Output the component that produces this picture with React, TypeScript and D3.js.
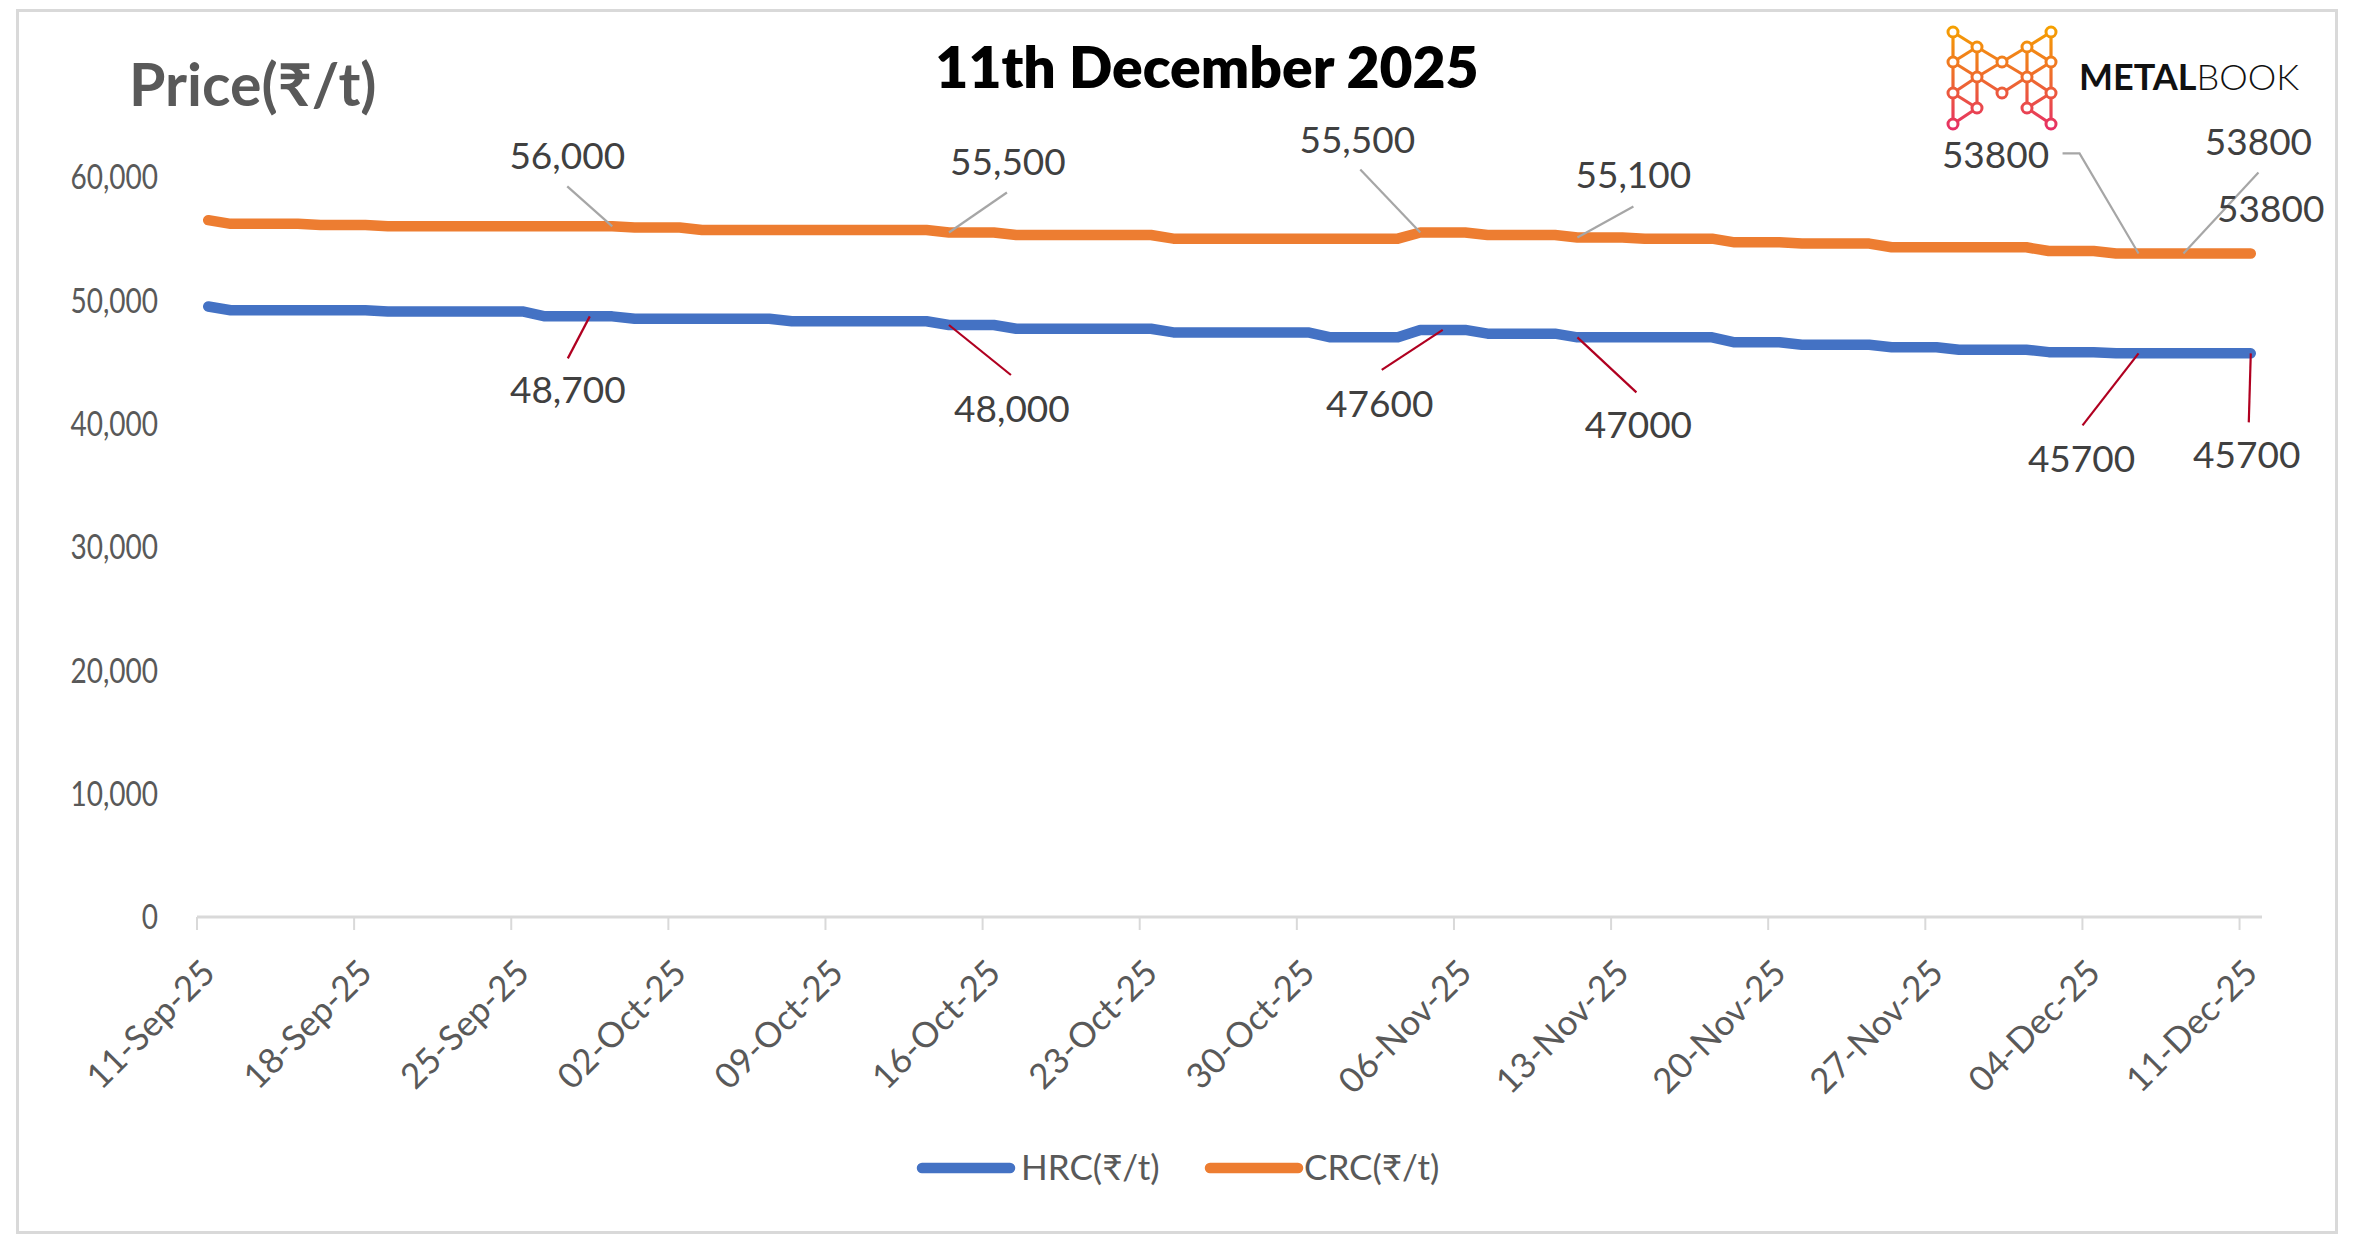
import React from 'react';
import * as d3 from 'd3';

// ---------- DATA ----------
const firstDay = new Date(2025, 8, 11);
const lastDay = new Date(2025, 11, 11);
const dates: Date[] = d3.timeDay.range(firstDay, d3.timeDay.offset(lastDay, 1));

const hrcValues: number[] = [
  49500,
  49200, 49200, 49200, 49200, 49200, 49200, 49200,
  49100, 49100, 49100, 49100, 49100, 49100, 49100,
  48700, 48700, 48700, 48700,
  48500, 48500, 48500, 48500, 48500, 48500, 48500,
  48300, 48300, 48300, 48300, 48300, 48300, 48300,
  48000, 48000, 48000,
  47700, 47700, 47700, 47700, 47700, 47700, 47700,
  47400, 47400, 47400, 47400, 47400, 47400, 47400,
  47000, 47000, 47000, 47000,
  47600, 47600, 47600,
  47300, 47300, 47300, 47300,
  47000, 47000, 47000, 47000, 47000, 47000, 47000,
  46600, 46600, 46600,
  46400, 46400, 46400, 46400,
  46200, 46200, 46200,
  46000, 46000, 46000, 46000,
  45800, 45800, 45800,
  45700, 45700, 45700, 45700, 45700, 45700, 45700,
];

const crcValues: number[] = [
  56500,
  56200, 56200, 56200, 56200,
  56100, 56100, 56100,
  56000, 56000, 56000, 56000, 56000, 56000, 56000, 56000, 56000, 56000, 56000,
  55900, 55900, 55900,
  55700, 55700, 55700, 55700, 55700, 55700, 55700, 55700, 55700, 55700, 55700,
  55500, 55500, 55500,
  55300, 55300, 55300, 55300, 55300, 55300, 55300,
  55000, 55000, 55000, 55000, 55000, 55000, 55000, 55000, 55000, 55000, 55000,
  55500, 55500, 55500,
  55300, 55300, 55300, 55300,
  55100, 55100, 55100,
  55000, 55000, 55000, 55000,
  54700, 54700, 54700,
  54600, 54600, 54600, 54600,
  54300, 54300, 54300, 54300, 54300, 54300, 54300,
  54000, 54000, 54000,
  53800, 53800, 53800, 53800, 53800, 53800, 53800,
];

const yTickValues = [0, 10000, 20000, 30000, 40000, 50000, 60000];
const xTickDates: Date[] = [
  new Date(2025, 8, 11), new Date(2025, 8, 18), new Date(2025, 8, 25),
  new Date(2025, 9, 2), new Date(2025, 9, 9), new Date(2025, 9, 16),
  new Date(2025, 9, 23), new Date(2025, 9, 30), new Date(2025, 10, 6),
  new Date(2025, 10, 13), new Date(2025, 10, 20), new Date(2025, 10, 27),
  new Date(2025, 11, 4), new Date(2025, 11, 11),
];

const seriesNames = ['HRC(₹/t)', 'CRC(₹/t)'];
const titleText = '11th December 2025';
const yTitleText = 'Price(₹/t)';

// annotation: index of the day and label text
const crcLabelIdx = [18, 33, 54, 61, 86, 88, 91];
const crcLabelText = ['56,000', '55,500', '55,500', '55,100', '53800', '53800', '53800'];
const hrcLabelIdx = [17, 33, 55, 61, 86, 91];
const hrcLabelText = ['48,700', '48,000', '47600', '47000', '45700', '45700'];

// ---------- LAYOUT ----------
const W = 2354;
const H = 1243;
const PLOT = { left: 197, right: 2262, top: 177, bottom: 917 };
const FONT = "Lato, 'Noto Sans', 'DejaVu Sans', sans-serif";
const BLUE = '#4472C4';
const ORANGE = '#ED7D31';

// label offsets from the point: [textDx, textDy, leaderDx, leaderDy]
const crcLabelLayout: number[][] = [
  [-45, -70, -45, -40],
  [59, -70, 58, -40],
  [-63, -92, -60, -63],
  [56, -62, 56, -31],
  [-143, -98, -59, -100],
  [75, -111, 75, -81],
  [20, -44, NaN, NaN],
];
const hrcLabelLayout: number[][] = [
  [-22, 74, -22, 42],
  [63, 84, 62, 50],
  [-63, 74, -61, 40],
  [61, 88, 59, 55],
  [-57, 106, -56, 72],
  [-4, 102, -2, 69],
];

export default function App() {
  React.useEffect(() => {
    document.body.style.margin = '0';
  }, []);

  const x = d3
    .scaleTime()
    .domain([firstDay, d3.timeDay.offset(lastDay, 1)])
    .range([PLOT.left, PLOT.right]);
  const y = d3.scaleLinear().domain([0, 60000]).range([PLOT.bottom, PLOT.top]);
  const px = (i: number) => x(d3.timeHour.offset(dates[i], 12));

  const line = d3
    .line<number>()
    .x((_, i) => px(i))
    .y((v) => y(v));

  const fmt = d3.format(',');
  const dateFmt = d3.timeFormat('%d-%b-%y');

  const renderLabels = (
    idx: number[],
    texts: string[],
    layout: number[][],
    values: number[],
    leaderColor: string,
    elbow?: number
  ) =>
    idx.map((di, k) => {
      const cx = px(di);
      const cy = y(values[di]);
      const [tdx, tdy, ldx, ldy] = layout[k];
      let leader = null;
      if (!isNaN(ldx)) {
        const pts: [number, number][] = [];
        if (elbow === k) {
          pts.push([cx + ldx - 17, cy + ldy]);
        }
        pts.push([cx + ldx, cy + ldy]);
        pts.push([cx, cy]);
        leader = (
          <path
            d={d3.line()(pts) || ''}
            fill="none"
            stroke={leaderColor}
            strokeWidth={2.2}
          />
        );
      }
      return (
        <g key={k}>
          {leader}
          <text
            x={cx + tdx}
            y={cy + tdy}
            dy="0.35em"
            textAnchor="middle"
            fontFamily={FONT}
            fontSize={37}
            fill="#404040"
          >
            {texts[k]}
          </text>
        </g>
      );
    });

  // logo geometry
  const lx = [1953, 1977, 2002, 2027, 2051];
  const ly = [32, 47, 62, 77, 93, 108, 124];
  const nodes: [number, number][] = [
    [0, 0], [4, 0], [1, 1], [3, 1], [0, 2], [2, 2], [4, 2],
    [1, 3], [3, 3], [0, 4], [2, 4], [4, 4], [1, 5], [3, 5], [0, 6], [4, 6],
  ];
  const edges: [number, number, number, number][] = [
    [0, 0, 0, 6], [4, 0, 4, 6], [1, 1, 1, 5], [3, 1, 3, 5],
    [0, 0, 1, 1], [1, 1, 2, 2], [4, 0, 3, 1], [3, 1, 2, 2],
    [0, 2, 1, 1], [0, 2, 1, 3], [1, 3, 2, 2], [2, 2, 3, 3], [3, 3, 4, 2], [4, 2, 3, 1],
    [0, 4, 1, 3], [1, 3, 2, 4], [2, 4, 3, 3], [3, 3, 4, 4],
    [0, 4, 1, 5], [4, 4, 3, 5], [1, 5, 0, 6], [3, 5, 4, 6],
  ];

  return (
    <svg
      width={W}
      height={H}
      style={{ position: 'absolute', left: 0, top: 0, background: '#fff' }}
    >
      <defs>
        <linearGradient id="logoGrad" gradientUnits="userSpaceOnUse" x1={0} y1={27} x2={0} y2={130}>
          <stop offset="0%" stopColor="#F5A000" />
          <stop offset="50%" stopColor="#EE6A2E" />
          <stop offset="100%" stopColor="#E62E66" />
        </linearGradient>
      </defs>
      <rect x={0} y={0} width={W} height={H} fill="#fff" />
      <rect x={17.5} y={10.5} width={2319} height={1222} fill="none" stroke="#d9d9d9" strokeWidth={3} />

      {/* titles */}
      <text x={1207} y={88} textAnchor="middle" fontFamily={FONT} fontWeight={800} fontSize={57} fill="#000">
        {titleText}
      </text>
      <text x={129} y={106} fontFamily={FONT} fontWeight={700} fontSize={59} fill="#595959">
        {yTitleText}
      </text>

      {/* logo */}
      <g>
        {edges.map((e, i) => (
          <line
            key={i}
            x1={lx[e[0]]}
            y1={ly[e[1]]}
            x2={lx[e[2]]}
            y2={ly[e[3]]}
            stroke="url(#logoGrad)"
            strokeWidth={3.2}
          />
        ))}
        {nodes.map((n, i) => (
          <circle key={i} cx={lx[n[0]]} cy={ly[n[1]]} r={5} fill="#fff" stroke="url(#logoGrad)" strokeWidth={3} />
        ))}
        <text x={2079} y={90} fontFamily={FONT} fontSize={36} fill="#111">
          <tspan fontWeight={700}>METAL</tspan>
          <tspan fontWeight={300}>BOOK</tspan>
        </text>
      </g>

      {/* y tick labels */}
      {yTickValues.map((v) => (
        <text
          key={v}
          transform={`translate(158,${y(v)}) scale(0.8,1)`}
          dy="0.35em"
          textAnchor="end"
          fontFamily={FONT}
          fontSize={35}
          fill="#595959"
        >
          {fmt(v)}
        </text>
      ))}

      {/* x axis */}
      <line x1={PLOT.left} x2={PLOT.right} y1={PLOT.bottom} y2={PLOT.bottom} stroke="#d9d9d9" strokeWidth={3} />
      {xTickDates.map((d, i) => (
        <g key={i}>
          <line x1={x(d)} x2={x(d)} y1={PLOT.bottom} y2={PLOT.bottom + 13} stroke="#d9d9d9" strokeWidth={2} />
          <text
            transform={`translate(${x(d) + 20},${975}) rotate(-45)`}
            textAnchor="end"
            fontFamily={FONT}
            fontSize={35}
            fill="#595959"
          >
            {dateFmt(d)}
          </text>
        </g>
      ))}

      {/* series */}
      <path d={line(crcValues) || ''} fill="none" stroke={ORANGE} strokeWidth={10.5} strokeLinejoin="round" strokeLinecap="round" />
      <path d={line(hrcValues) || ''} fill="none" stroke={BLUE} strokeWidth={10.5} strokeLinejoin="round" strokeLinecap="round" />

      {/* data labels */}
      {renderLabels(crcLabelIdx, crcLabelText, crcLabelLayout, crcValues, '#A6A6A6', 4)}
      {renderLabels(hrcLabelIdx, hrcLabelText, hrcLabelLayout, hrcValues, '#B00020')}

      {/* legend */}
      <line x1={922} x2={1010} y1={1168} y2={1168} stroke={BLUE} strokeWidth={10.5} strokeLinecap="round" />
      <text x={1021} y={1180} fontFamily={FONT} fontSize={35} fill="#595959">
        {seriesNames[0]}
      </text>
      <line x1={1210} x2={1298} y1={1168} y2={1168} stroke={ORANGE} strokeWidth={10.5} strokeLinecap="round" />
      <text x={1304} y={1180} fontFamily={FONT} fontSize={35} fill="#595959">
        {seriesNames[1]}
      </text>
    </svg>
  );
}
